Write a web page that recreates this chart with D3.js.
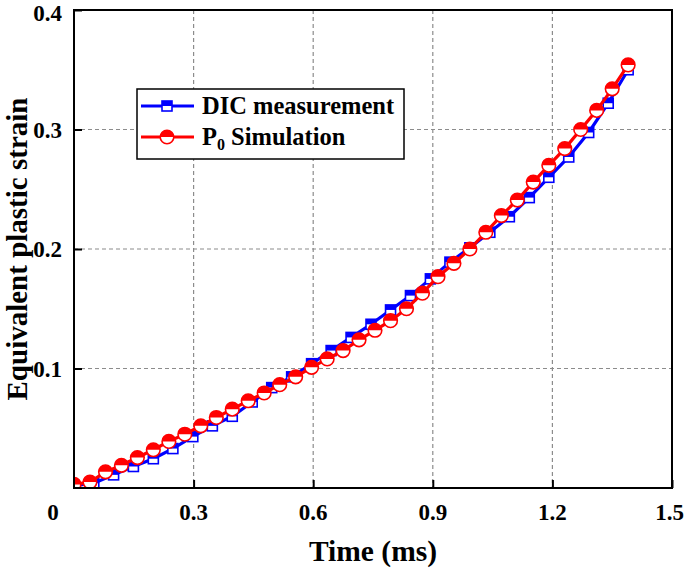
<!DOCTYPE html>
<html>
<head>
<meta charset="utf-8">
<script src="https://cdn.jsdelivr.net/npm/d3@7/dist/d3.min.js"></script>
<style>
  body { margin: 0; background: #fff; }
  svg { display: block; }
  text { font-family: "Liberation Serif", "Times New Roman", serif; font-weight: bold; fill: #000; }
</style>
</head>
<body>
<svg id="chart" width="685" height="569"></svg>
<script>
// ---- data ----
const dicTime = [0, 0.0496, 0.0993, 0.149, 0.199, 0.248, 0.298, 0.347, 0.397, 0.447, 0.496, 0.546, 0.596, 0.645, 0.695, 0.745, 0.794, 0.844, 0.894, 0.943, 0.993, 1.043, 1.092, 1.142, 1.191, 1.241, 1.291, 1.340, 1.390];
const dicStrain = [0.002, 0.004, 0.011, 0.018, 0.0245, 0.033, 0.043, 0.052, 0.060, 0.072, 0.084, 0.093, 0.104, 0.115, 0.126, 0.137, 0.149, 0.161, 0.175, 0.189, 0.201, 0.214, 0.227, 0.243, 0.260, 0.277, 0.2975, 0.322, 0.350];
const simTime = [0, 0.040, 0.079, 0.119, 0.159, 0.199, 0.238, 0.278, 0.318, 0.357, 0.397, 0.437, 0.477, 0.516, 0.556, 0.596, 0.635, 0.675, 0.715, 0.755, 0.794, 0.834, 0.874, 0.913, 0.953, 0.993, 1.033, 1.072, 1.112, 1.152, 1.191, 1.231, 1.271, 1.311, 1.350, 1.390];
const simStrain = [0.003, 0.005, 0.0135, 0.019, 0.0255, 0.032, 0.039, 0.045, 0.052, 0.059, 0.066, 0.073, 0.0795, 0.0865, 0.093, 0.101, 0.108, 0.115, 0.124, 0.132, 0.140, 0.150, 0.163, 0.1768, 0.188, 0.200, 0.214, 0.228, 0.241, 0.256, 0.270, 0.284, 0.300, 0.316, 0.334, 0.354];
const xTicks = [0, 0.3, 0.6, 0.9, 1.2, 1.5];
const yTicks = [0.1, 0.2, 0.3, 0.4];
const seriesNames = ["DIC measurement", "Simulation"];

// ---- layout ----
const svg = d3.select("#chart");
const L = 74, R = 672, T = 10, B = 488;
const x = d3.scaleLinear().domain([0, 1.5]).range([L, R]);
const y = d3.scaleLinear().domain([0, 0.4]).range([B, T]);

// grid
const grid = svg.append("g").attr("stroke", "#8c8c8c").attr("stroke-width", 1.2).attr("stroke-dasharray", "4,3");
grid.selectAll("line.v").data(xTicks.filter(d => d > 0 && d < 1.5)).enter().append("line")
  .attr("x1", d => x(d)).attr("x2", d => x(d)).attr("y1", T).attr("y2", B);
grid.selectAll("line.h").data(yTicks.filter(d => d < 0.4)).enter().append("line")
  .attr("x1", L).attr("x2", R).attr("y1", d => y(d)).attr("y2", d => y(d));

// axes (inside ticks)
const xAxis = d3.axisBottom(x).tickValues(xTicks).tickSize(-8).tickFormat("");
const yAxis = d3.axisLeft(y).tickValues(yTicks).tickSize(-8).tickFormat("");
svg.append("g").attr("transform", `translate(0,${B})`).call(xAxis)
  .call(g => g.select(".domain").remove())
  .call(g => g.selectAll("line").attr("stroke", "#000").attr("stroke-width", 2));
svg.append("g").attr("transform", `translate(${L},0)`).call(yAxis)
  .call(g => g.select(".domain").remove())
  .call(g => g.selectAll("line").attr("stroke", "#000").attr("stroke-width", 2));

// tick labels
svg.append("g").selectAll("text").data(xTicks).enter().append("text")
  .attr("x", d => d === 0 ? x(d) - 21 : (d === 1.5 ? 684 : x(d)))
  .attr("y", 520)
  .attr("text-anchor", d => d === 1.5 ? "end" : "middle").attr("font-size", 23)
  .text(d => d === 0 ? "0" : d3.format(".1f")(d));
svg.append("g").selectAll("text").data(yTicks).enter().append("text")
  .attr("x", 62).attr("y", d => Math.max(y(d) + 8, 21))
  .attr("text-anchor", "end").attr("font-size", 23)
  .text(d => d3.format(".1f")(d));

// axis titles
svg.append("text").attr("x", (L + R) / 2).attr("y", 561).attr("text-anchor", "middle")
  .attr("font-size", 29.5).text("Time (ms)");
svg.append("text").attr("transform", `translate(27,${(T + B) / 2}) rotate(-90)`)
  .attr("text-anchor", "middle").attr("font-size", 29).text("Equivalent plastic strain");

// clip
svg.append("defs").append("clipPath").attr("id", "plotclip").append("rect")
  .attr("x", L).attr("y", T).attr("width", R - L).attr("height", B - T);

const plot = svg.append("g").attr("clip-path", "url(#plotclip)");
const line = d3.line().x(d => x(d[0])).y(d => y(d[1]));
const dic = dicTime.map((t, i) => [t, dicStrain[i]]);
const sim = simTime.map((t, i) => [t, simStrain[i]]);

function squareMarker(g, cx, cy, s, col) {
  g.append("rect").attr("x", cx - s / 2).attr("y", cy - s / 2).attr("width", s).attr("height", s)
    .attr("fill", "#fff").attr("stroke", col).attr("stroke-width", 1.6);
  g.append("rect").attr("x", cx - s / 2).attr("y", cy - s / 2).attr("width", s).attr("height", s / 2)
    .attr("fill", col);
}
function circleMarker(g, cx, cy, r, col) {
  g.append("circle").attr("cx", cx).attr("cy", cy).attr("r", r)
    .attr("fill", "#fff").attr("stroke", col).attr("stroke-width", 1.6);
  g.append("path").attr("d", `M${cx - r},${cy} A${r},${r} 0 0 1 ${cx + r},${cy} Z`).attr("fill", col);
}

// DIC series
plot.append("path").datum(dic).attr("d", line).attr("fill", "none").attr("stroke", "#0000ff").attr("stroke-width", 3.2);
const dicG = plot.append("g");
dic.forEach(d => squareMarker(dicG, x(d[0]), y(d[1]), 10, "#0000ff"));
// Simulation series
plot.append("path").datum(sim).attr("d", line).attr("fill", "none").attr("stroke", "#ff0000").attr("stroke-width", 3.2);
const simG = plot.append("g");
sim.forEach(d => circleMarker(simG, x(d[0]), y(d[1]), 6.8, "#ff0000"));

// frame
svg.append("rect").attr("x", L).attr("y", T).attr("width", R - L).attr("height", B - T)
  .attr("fill", "none").attr("stroke", "#000").attr("stroke-width", 2);

// legend
const lg = svg.append("g");
lg.append("rect").attr("x", 137).attr("y", 89).attr("width", 267).attr("height", 70)
  .attr("fill", "#fff").attr("stroke", "#000").attr("stroke-width", 1.5);
lg.append("line").attr("x1", 141).attr("x2", 194).attr("y1", 106).attr("y2", 106).attr("stroke", "#0000ff").attr("stroke-width", 3.2);
squareMarker(lg, 167, 106, 10, "#0000ff");
lg.append("line").attr("x1", 141).attr("x2", 194).attr("y1", 137).attr("y2", 137).attr("stroke", "#ff0000").attr("stroke-width", 3.2);
circleMarker(lg, 167, 137, 6.8, "#ff0000");
lg.append("text").attr("x", 202).attr("y", 114).attr("font-size", 24.5).text(seriesNames[0]);
const t2 = lg.append("text").attr("x", 202).attr("y", 145).attr("font-size", 24.5);
t2.append("tspan").text("P");
t2.append("tspan").attr("font-size", 16).attr("dy", 5).text("0");
t2.append("tspan").attr("dy", -5).text(" " + seriesNames[1]);
</script>
</body>
</html>
